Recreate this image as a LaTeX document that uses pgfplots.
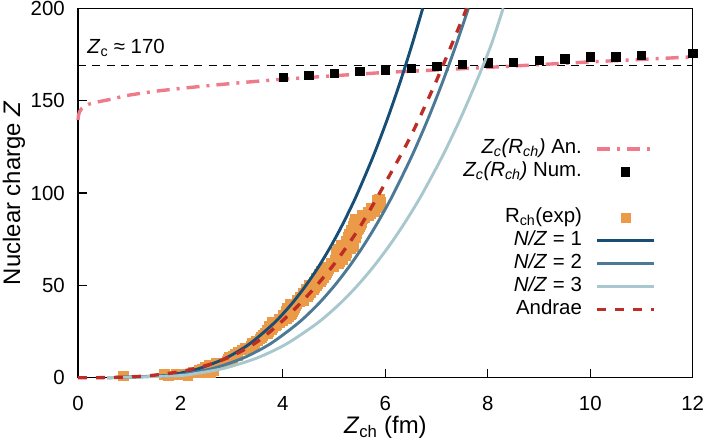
\documentclass[border=0pt]{standalone}
\usepackage{fontspec}
\setmainfont{Liberation Sans}
\usepackage{pgfplots}
\pgfplotsset{compat=1.18}
\definecolor{cpink}{RGB}{238,122,138}
\definecolor{corange}{RGB}{235,155,72}
\definecolor{cdark}{RGB}{22,78,118}
\definecolor{cmid}{RGB}{76,122,150}
\definecolor{clight}{RGB}{168,199,206}
\definecolor{cred}{RGB}{190,44,38}
\begin{document}
\begin{tikzpicture}
\begin{axis}[
 scale only axis, width=614.7bp, height=369.4bp,
 xmin=0, xmax=12, ymin=0, ymax=200,
 clip=false, clip marker paths=true,
 xtick={0,2,...,12}, ytick={0,50,...,200},
 tick pos=left, tick align=inside, major tick length=9bp,
 axis line style={line width=1.3bp},
 every tick/.style={line width=1.1bp, black},
 /pgf/number format/assume math mode=true,
 ticklabel style={font=\fontsize{20.5}{24}\selectfont},
 xticklabel style={inner sep=0pt, yshift=-18.5bp},
 yticklabel style={inner sep=0pt, xshift=-13bp},
 xlabel={\textit{Z}\textsubscript{ch} (fm)},
 ylabel={Nuclear charge \textit{Z}},
 label style={font=\fontsize{24}{28}\selectfont},
 xlabel style={at={(axis description cs:0.5,-0.135)}, anchor=center},
 ylabel style={at={(axis description cs:-0.104,0.5)}, anchor=center},
 legend style={draw=none, fill=none, at={(rel axis cs:0.94,0.651)}, anchor=north east,
   font=\fontsize{20.5}{24}\selectfont, inner sep=0pt, row sep=0pt,
   nodes={inner sep=1.3bp, text height=15bp, text depth=5.3bp},
   /tikz/every odd column/.append style={column sep=12bp}},
 legend cell align=right, legend plot pos=right,
 legend image code/.code={\draw[mark repeat=2,mark phase=2,#1] plot coordinates {(0bp,0bp) (28.5bp,0bp) (57bp,0bp)};},
]
% Z_c approx 170 reference line
\addplot[black, line width=1.5bp, dash pattern=on 8bp off 6.5bp, forget plot] coordinates {(0,169) (12,169)};

% analytic Z_c(R_ch)
\addplot[cpink, line width=3.4bp, dash pattern=on 13bp off 7bp on 3bp off 7bp] table {
x y
0 139.5
0.01 142
0.03 144
0.07 145.7
0.13 147
0.2 148
0.3 148.8
0.4 149.4
0.6 150.5
0.8 151.8
1.0 153
1.3 154.3
1.6 155.4
2.0 156.6
2.5 158
3.0 159.3
3.5 160.5
4.0 161.6
5.0 163.5
6.0 165.3
7.0 166.6
8.0 168.0
9.0 169.5
10.0 171.0
11.0 172.3
12.0 173.7
};
\addlegendentry{\textit{Z\textsubscript{c}(R\textsubscript{ch})} An.}

% numerical Z_c(R_ch)
\addplot[only marks, mark=square*, mark size=4.2bp, black] table {
x y
4.0 162.8
4.5 163.8
5.0 164.8
5.5 165.9
6.0 166.8
6.5 167.7
7.0 168.7
7.5 169.8
8.0 170.6
8.5 170.8
9.0 171.9
9.5 172.8
10.0 173.7
10.5 173.7
11.0 174.7
12.0 175.8
};
\addlegendentry{\textit{Z\textsubscript{c}(R\textsubscript{ch})} Num.}

\addlegendimage{draw opacity=0, line width=0pt}
\addlegendentry{\phantom{X}}

% experimental charge radii
\addplot[only marks, mark=square*, mark size=4.7bp, corange] table {
x y
0.88 1
2.14 1
1.76 1
1.68 2
1.97 2
2.07 2
1.92 2
2.59 3
2.44 3
2.34 3
2.25 3
2.48 3
2.65 4
2.52 4
2.36 4
2.46 4
2.41 5
2.58 5
2.47 6
2.50 6
2.56 7
2.70 8
2.78 8
2.90 9
3.01 10
2.97 10
2.92 10
2.99 11
2.94 11
3.06 12
3.03 12
3.11 12
3.06 13
3.12 14
3.19 15
3.26 16
3.30 16
3.37 17
3.39 17
3.43 18
3.39 18
3.44 19
3.40 19
3.48 20
3.51 20
3.47 20
3.55 21
3.59 22
3.57 22
3.60 23
3.64 24
3.69 24
3.71 25
3.74 26
3.69 26
3.78 26
3.79 27
3.78 28
3.72 28
3.85 28
3.88 29
3.80 29
3.93 30
3.86 30
3.79 30
3.99 31
4.07 32
4.00 32
3.93 32
4.10 33
4.14 34
4.07 34
4.00 34
4.16 35
4.19 36
4.12 36
4.05 36
4.20 37
4.14 37
4.22 38
4.15 38
4.08 38
4.24 39
4.27 40
4.20 40
4.13 40
4.32 41
4.41 42
4.34 42
4.27 42
4.48 44
4.41 44
4.34 44
4.49 45
4.53 46
4.46 46
4.39 46
4.54 47
4.59 48
4.52 48
4.45 48
4.61 49
4.65 50
4.58 50
4.51 50
4.68 51
4.74 52
4.67 52
4.60 52
4.75 53
4.79 54
4.72 54
4.65 54
4.80 55
4.84 56
4.77 56
4.70 56
4.86 57
4.88 58
4.81 58
4.74 58
4.89 59
4.98 60
4.91 60
4.84 60
5.08 62
5.01 62
4.94 62
5.11 63
5.16 64
5.09 64
5.02 64
5.06 65
5.22 66
5.15 66
5.08 66
5.20 67
5.25 68
5.18 68
5.11 68
5.04 68
5.23 69
5.31 70
5.24 70
5.17 70
5.08 70
5.37 71
5.35 72
5.28 72
5.21 72
5.13 72
5.35 73
5.37 74
5.30 74
5.23 74
5.37 75
5.41 76
5.34 76
5.27 76
5.40 77
5.43 78
5.36 78
5.29 78
5.44 79
5.46 80
5.39 80
5.32 80
5.48 81
5.50 82
5.43 82
5.36 82
5.52 83
5.53 84
5.46 84
5.39 84
5.54 85
5.55 86
5.48 86
5.41 86
5.59 87
5.68 88
5.61 88
5.54 88
5.71 89
5.79 90
5.72 90
5.65 90
5.86 92
5.79 92
5.72 92
5.90 94
5.83 94
5.91 95
5.84 96
5.88 97
};
\addlegendentry{R\textsubscript{ch}(exp)}

% N/Z = 1
\addplot[cdark, line width=2.9bp, smooth] table {
x y
0.570 0
1.623 1
1.897 2
2.089 3
2.371 5
2.839 10
3.168 15
3.429 20
3.843 30
4.172 40
4.450 50
4.694 60
4.911 70
5.109 80
5.290 90
5.459 100
5.765 120
6.039 140
6.288 160
6.517 180
6.730 200
};
\addlegendentry{\textit{N/Z} = 1}

% N/Z = 2
\addplot[cmid, line width=2.9bp, smooth] table {
x y
0.570 0
1.776 1
2.089 2
2.632 5
3.168 10
3.544 15
3.843 20
4.317 30
4.694 40
5.012 50
5.290 60
5.539 70
5.765 80
5.973 90
6.166 100
6.517 120
6.831 140
7.116 160
7.378 180
7.621 200
};
\addlegendentry{\textit{N/Z} = 2}

% N/Z = 3
\addplot[clight, line width=2.9bp, smooth] table {
x y
0.570 0
1.897 1
2.242 2
2.839 5
3.429 10
3.843 15
4.172 20
4.694 30
5.109 40
5.459 50
5.765 60
6.039 70
6.288 80
6.517 90
6.730 100
7.116 120
7.461 140
7.774 160
8.063 180
8.300 200
};
\addlegendentry{\textit{N/Z} = 3}

% Andrae
\addplot[cred, line width=3.3bp, dash pattern=on 9bp off 9bp, smooth] table {
x y
0 0
0.5 0.05
1.0 0.4
1.5 1.4
2.0 3.3
2.5 6.6
3.0 11.7
3.5 19.5
4.0 31
4.5 45
5.0 61.5
5.5 81.5
6.0 105.5
6.5 131
7.0 161
7.5 194
7.585 200
};
\addlegendentry{Andrae}

\node[anchor=base west, inner sep=0pt, font=\fontsize{20.5}{24}\selectfont] at (rel axis cs:0.0151,0.8776) {\textit{Z}\textsubscript{c} ≈ 170};
\end{axis}
\pgfresetboundingbox
\path[use as bounding box] ([xshift=-78bp,yshift=-65.3bp]current axis.south west) rectangle ([xshift=13.3bp,yshift=8.3bp]current axis.north east);
\end{tikzpicture}
\end{document}
